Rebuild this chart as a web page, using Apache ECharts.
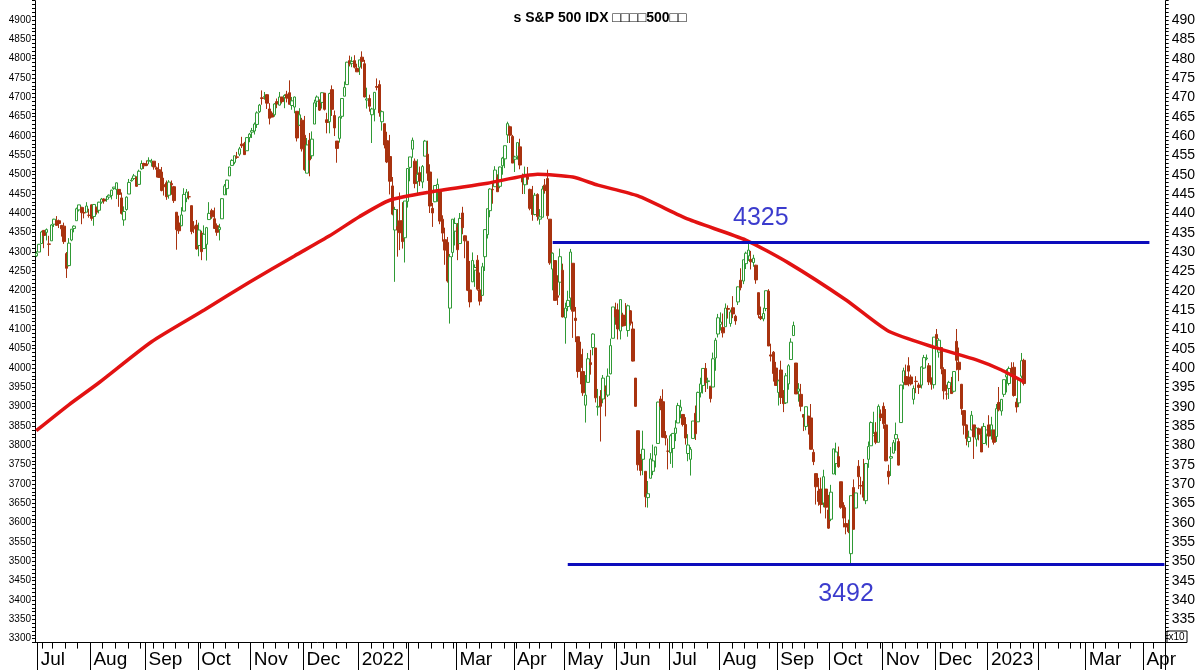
<!DOCTYPE html>
<html>
<head>
<meta charset="utf-8">
<script src="https://cdn.jsdelivr.net/npm/echarts@6/dist/echarts.min.js"></script>
<style>
  html, body { margin: 0; padding: 0; background: #fff; }
  #chart { width: 1200px; height: 670px; }
</style>
</head>
<body>
<div id="chart"></div>
<script>
// daily rows: [day, open, high, low, close]
const jun21 = [[30,4290,4302,4287,4297]];
const jul21 = [
  [1,4300,4321,4300,4320],[2,4322,4355,4322,4352],[6,4356,4356,4310,4343],[7,4351,4361,4330,4358],
  [8,4321,4342,4290,4320],[9,4329,4372,4329,4370],[12,4372,4386,4365,4385],[13,4381,4393,4368,4369],
  [14,4381,4384,4362,4374],[15,4369,4369,4340,4360],[16,4367,4376,4321,4327],[19,4296,4300,4233,4258],
  [20,4265,4336,4263,4323],[21,4331,4359,4328,4359],[22,4361,4369,4351,4367],[23,4381,4415,4381,4412],
  [26,4409,4422,4405,4422],[27,4416,4416,4372,4402],[28,4402,4416,4387,4401],[29,4403,4429,4403,4419],
  [30,4395,4412,4389,4395]
];
const aug21 = [
  [2,4422,4423,4381,4387],[3,4392,4424,4368,4423],[4,4416,4417,4397,4403],[5,4408,4430,4400,4429],
  [6,4429,4440,4425,4437],[9,4437,4439,4425,4432],[10,4436,4445,4430,4436],[11,4442,4449,4436,4447],
  [12,4446,4461,4436,4460],[13,4464,4468,4461,4468],[16,4462,4480,4437,4479],[17,4462,4462,4417,4449],
  [18,4440,4454,4397,4400],[19,4383,4418,4368,4405],[20,4410,4444,4407,4442],[23,4450,4489,4450,4480],
  [24,4484,4492,4482,4486],[25,4490,4502,4486,4497],[26,4493,4496,4469,4470],[27,4475,4513,4475,4509],
  [30,4515,4537,4513,4529],[31,4529,4531,4515,4523]
];
const sep21 = [
  [1,4528,4537,4522,4524],[2,4535,4545,4527,4537],[3,4532,4541,4521,4535],[7,4535,4535,4513,4520],
  [8,4518,4521,4493,4514],[9,4513,4530,4493,4493],[10,4507,4520,4457,4459],[13,4474,4492,4446,4469],
  [14,4479,4485,4435,4443],[15,4447,4486,4438,4481],[16,4477,4485,4448,4474],[17,4469,4471,4427,4433],
  [20,4403,4403,4306,4358],[21,4375,4394,4347,4355],[22,4368,4416,4367,4396],[23,4406,4465,4406,4449],
  [24,4439,4463,4429,4455],[27,4443,4457,4436,4443],[28,4420,4420,4346,4353],[29,4367,4380,4349,4360],
  [30,4370,4383,4306,4308]
];
const oct21 = [
  [1,4317,4376,4289,4357],[4,4349,4355,4279,4301],[5,4309,4369,4309,4346],[6,4320,4365,4278,4363],
  [7,4384,4429,4384,4400],[8,4407,4412,4386,4391],[11,4386,4415,4360,4361],[12,4368,4374,4342,4351],
  [13,4358,4373,4330,4364],[14,4386,4439,4386,4438],[15,4448,4476,4448,4471],[18,4464,4487,4447,4486],
  [19,4497,4520,4497,4520],[20,4524,4540,4524,4537],[21,4532,4549,4527,4549],[22,4546,4559,4541,4545],
  [25,4553,4572,4548,4567],[26,4579,4598,4569,4575],[27,4581,4585,4551,4552],[28,4562,4597,4562,4596],
  [29,4596,4608,4584,4605]
];
const nov21 = [
  [1,4610,4621,4595,4614],[2,4613,4635,4604,4631],[3,4630,4664,4621,4660],[4,4663,4683,4660,4680],
  [5,4699,4718,4681,4697],[8,4702,4714,4694,4702],[9,4707,4708,4670,4685],[10,4670,4685,4630,4646],
  [11,4659,4664,4648,4649],[12,4655,4685,4650,4683],[15,4689,4697,4672,4683],[16,4680,4714,4679,4701],
  [17,4701,4701,4684,4689],[18,4700,4708,4672,4705],[19,4708,4717,4687,4698],[22,4712,4744,4682,4682],
  [23,4679,4701,4668,4691],[24,4675,4702,4659,4701],[26,4664,4664,4586,4595],[29,4628,4672,4626,4655],
  [30,4641,4647,4560,4567]
];
const dec21 = [
  [1,4602,4652,4510,4513],[2,4504,4595,4504,4577],[3,4589,4608,4496,4538],[6,4549,4612,4541,4592],
  [7,4631,4694,4631,4686],[8,4690,4705,4675,4701],[9,4691,4695,4665,4667],[10,4687,4713,4671,4712],
  [13,4711,4711,4666,4669],[14,4642,4660,4607,4635],[15,4637,4712,4607,4710],[16,4720,4731,4652,4669],
  [17,4653,4666,4600,4621],[20,4587,4587,4531,4568],[21,4594,4651,4583,4649],[22,4651,4697,4645,4697],
  [23,4703,4741,4703,4726],[27,4733,4792,4733,4791],[28,4795,4808,4780,4786],[29,4788,4805,4778,4793],
  [30,4795,4809,4775,4778],[31,4775,4787,4766,4766]
];
const jan22 = [
  [3,4778,4797,4758,4797],[4,4804,4819,4774,4793],[5,4787,4797,4700,4701],[6,4693,4725,4671,4696],
  [7,4697,4707,4663,4677],[10,4655,4673,4582,4670],[11,4669,4714,4638,4713],[12,4728,4749,4718,4726],
  [13,4733,4744,4650,4660],[14,4637,4666,4614,4663],[18,4632,4632,4568,4577],[19,4588,4611,4530,4533],
  [20,4547,4603,4449,4483],[21,4471,4494,4395,4398],[24,4357,4417,4223,4410],[25,4366,4411,4288,4357],
  [26,4381,4454,4305,4350],[27,4381,4429,4309,4327],[28,4337,4432,4273,4432],[31,4431,4516,4415,4516]
];
const feb22 = [
  [1,4519,4546,4483,4546],[2,4566,4596,4544,4589],[3,4535,4542,4465,4477],[4,4482,4540,4452,4501],
  [7,4505,4521,4471,4484],[8,4481,4525,4465,4521],[9,4548,4590,4548,4587],[10,4553,4588,4484,4504],
  [11,4507,4527,4401,4419],[14,4413,4427,4365,4401],[15,4430,4472,4429,4472],[16,4456,4490,4430,4475],
  [17,4456,4456,4372,4380],[18,4385,4395,4327,4349],[22,4332,4363,4267,4305],[23,4325,4339,4221,4225],
  [24,4155,4295,4115,4288],[25,4299,4385,4287,4385],[28,4354,4389,4317,4374]
];
const mar22 = [
  [1,4364,4375,4279,4306],[2,4322,4401,4322,4387],[3,4401,4417,4346,4363],[4,4342,4343,4284,4329],
  [7,4328,4328,4199,4201],[8,4202,4277,4157,4171],[9,4223,4299,4223,4278],[10,4253,4268,4210,4260],
  [11,4279,4292,4200,4204],[14,4202,4247,4162,4173],[15,4188,4272,4187,4262],[16,4288,4358,4251,4358],
  [17,4345,4412,4335,4412],[18,4407,4465,4390,4463],[21,4462,4481,4425,4461],[22,4469,4522,4469,4512],
  [23,4493,4501,4456,4456],[24,4470,4521,4465,4520],[25,4523,4546,4500,4543],[28,4541,4575,4517,4575],
  [29,4603,4637,4582,4632],[30,4624,4627,4582,4602],[31,4599,4603,4530,4530]
];
const apr22 = [
  [1,4540,4549,4507,4546],[4,4548,4583,4539,4583],[5,4572,4593,4514,4525],[6,4495,4503,4450,4481],
  [7,4474,4521,4450,4501],[8,4494,4520,4474,4488],[11,4462,4464,4408,4413],[12,4437,4471,4381,4397],
  [13,4397,4453,4395,4447],[14,4449,4452,4381,4392],[18,4385,4411,4371,4391],[19,4390,4471,4390,4463],
  [20,4473,4489,4451,4459],[21,4490,4513,4385,4394],[22,4385,4385,4267,4272],[25,4256,4299,4201,4297],
  [26,4278,4278,4175,4175],[27,4187,4240,4163,4183],[28,4222,4309,4188,4288],[29,4253,4270,4131,4132]
];
const may22 = [
  [2,4130,4169,4063,4155],[3,4159,4200,4147,4175],[4,4181,4308,4151,4300],[5,4271,4271,4078,4147],
  [6,4129,4158,4067,4123],[9,4081,4081,3975,3991],[10,4035,4068,3958,4001],[11,3991,4050,3928,3936],
  [12,3904,3982,3859,3930],[13,3963,4039,3963,4024],[16,4014,4047,3983,4009],[17,4053,4090,4033,4088],
  [18,4052,4052,3911,3923],[19,3899,3946,3877,3901],[20,3927,3943,3810,3901],[23,3920,3982,3909,3974],
  [24,3943,3955,3875,3941],[25,3930,3999,3925,3979],[26,3985,4076,3984,4058],[27,4077,4158,4077,4158],
  [31,4151,4169,4112,4132]
];
const jun22 = [
  [1,4150,4167,4074,4101],[2,4096,4177,4074,4177],[3,4137,4143,4107,4109],[6,4135,4168,4109,4121],
  [7,4097,4164,4081,4161],[8,4148,4150,4110,4116],[9,4101,4120,4017,4018],[10,3974,3974,3900,3901],
  [13,3838,3838,3735,3750],[14,3764,3778,3722,3735],[15,3764,3838,3723,3790],[16,3733,3733,3640,3667],
  [17,3665,3708,3639,3675],[21,3715,3780,3715,3765],[22,3733,3802,3723,3760],[23,3775,3796,3743,3796],
  [24,3805,3913,3805,3912],[27,3920,3928,3891,3901],[28,3913,3945,3820,3821],[29,3826,3837,3800,3819],
  [30,3785,3818,3738,3785]
];
const jul22 = [
  [1,3781,3829,3752,3825],[5,3792,3832,3742,3831],[6,3831,3865,3811,3845],[7,3858,3910,3858,3903],
  [8,3889,3918,3870,3899],[11,3880,3880,3849,3854],[12,3854,3873,3802,3819],[13,3779,3829,3759,3801],
  [14,3764,3796,3722,3790],[15,3818,3863,3818,3863],[18,3883,3903,3814,3830],[19,3861,3939,3861,3937],
  [20,3936,3975,3924,3959],[21,3955,3999,3934,3999],[22,3999,4013,3938,3962],[25,3965,3975,3946,3967],
  [26,3953,3953,3911,3921],[27,3951,4040,3951,4024],[28,4026,4078,3993,4072],[29,4088,4140,4079,4130]
];
const aug22 = [
  [1,4113,4144,4097,4119],[2,4105,4141,4079,4091],[3,4107,4167,4107,4155],[4,4154,4162,4128,4152],
  [5,4115,4151,4107,4145],[8,4156,4186,4129,4140],[9,4134,4138,4112,4122],[10,4171,4211,4163,4210],
  [11,4227,4258,4201,4208],[12,4225,4280,4217,4280],[15,4270,4301,4256,4297],[16,4290,4325,4277,4305],
  [17,4281,4303,4255,4275],[18,4273,4293,4262,4284],[19,4266,4267,4218,4228],[22,4195,4195,4129,4138],
  [23,4133,4159,4124,4128],[24,4127,4156,4121,4141],[25,4154,4200,4147,4200],[26,4199,4204,4057,4057],
  [29,4034,4063,4017,4031],[30,4041,4044,3965,3986],[31,4000,4016,3954,3955]
];
const sep22 = [
  [1,3937,3970,3903,3967],[2,3995,4019,3907,3924],[6,3931,3943,3886,3908],[7,3910,3987,3907,3980],
  [8,3959,4010,3944,4006],[9,4022,4077,4022,4067],[12,4084,4120,4084,4110],[13,4013,4013,3933,3933],
  [14,3940,3961,3913,3946],[15,3932,3959,3888,3901],[16,3880,3880,3837,3873],[19,3849,3900,3839,3900],
  [20,3876,3876,3828,3856],[21,3871,3907,3789,3790],[22,3782,3790,3749,3758],[23,3727,3727,3647,3693],
  [26,3682,3716,3644,3655],[27,3687,3717,3624,3647],[28,3651,3737,3640,3719],[29,3687,3687,3611,3640],
  [30,3633,3672,3584,3586]
];
const oct22 = [
  [3,3609,3698,3604,3679],[4,3726,3791,3726,3791],[5,3753,3807,3723,3783],[6,3771,3797,3742,3745],
  [7,3706,3706,3636,3640],[10,3645,3653,3588,3612],[11,3598,3640,3570,3589],[12,3591,3608,3573,3577],
  [13,3520,3670,3492,3670],[14,3691,3712,3584,3583],[17,3638,3677,3638,3677],[18,3746,3762,3687,3719],
  [19,3696,3719,3673,3695],[20,3707,3765,3657,3666],[21,3657,3753,3648,3753],[24,3764,3810,3742,3797],
  [25,3799,3862,3799,3859],[26,3825,3887,3825,3831],[27,3834,3860,3803,3808],[28,3808,3906,3808,3901],
  [31,3881,3893,3863,3872]
];
const nov22 = [
  [1,3901,3911,3843,3856],[2,3853,3894,3759,3760],[3,3733,3750,3699,3719],[4,3767,3796,3721,3771],
  [7,3780,3814,3779,3807],[8,3817,3859,3786,3828],[9,3810,3818,3748,3749],[10,3859,3957,3859,3956],
  [11,3963,4001,3945,3993],[14,3978,4009,3956,3957],[15,4006,4028,3953,3992],[16,3977,3983,3955,3959],
  [17,3919,3955,3906,3947],[18,3966,3979,3935,3965],[21,3956,3962,3933,3950],[22,3956,4004,3947,4003],
  [23,4000,4034,3998,4027],[25,4024,4035,4020,4026],[28,4006,4013,3956,3964],[29,3964,3976,3944,3958],
  [30,3957,4080,3947,4080]
];
const dec22 = [
  [1,4087,4101,4057,4076],[2,4041,4077,4027,4072],[5,4053,4053,3984,3998],[6,3996,4002,3919,3941],
  [7,3933,3957,3918,3933],[8,3947,3967,3920,3963],[9,3954,3977,3933,3934],[12,3940,3991,3937,3991],
  [13,4069,4101,3994,4020],[14,4015,4053,3966,3996],[15,3958,3959,3879,3895],[16,3890,3890,3828,3852],
  [19,3853,3854,3800,3818],[20,3810,3838,3795,3821],[21,3840,3889,3839,3878],[22,3853,3853,3765,3822],
  [23,3816,3846,3797,3845],[27,3843,3846,3813,3829],[28,3829,3849,3783,3783],[29,3805,3858,3805,3849],
  [30,3829,3840,3800,3840]
];
const jan23 = [
  [3,3853,3878,3794,3824],[4,3840,3874,3815,3853],[5,3840,3840,3802,3808],[6,3823,3907,3809,3895],
  [9,3911,3951,3888,3892],[10,3889,3920,3877,3919],[11,3932,3970,3925,3970],[12,3977,3997,3937,3983],
  [13,3960,4004,3955,3999],[17,3999,4015,3984,3990],[18,4002,4015,3926,3929],[19,3912,3922,3885,3899],
  [20,3910,3973,3899,3972],[23,3979,4039,3973,4019],[24,4020,4024,3955,3960]
];
const months = [
  ['2021-06', jun21], ['2021-07', jul21], ['2021-08', aug21], ['2021-09', sep21],
  ['2021-10', oct21], ['2021-11', nov21], ['2021-12', dec21], ['2022-01', jan22],
  ['2022-02', feb22], ['2022-03', mar22], ['2022-04', apr22], ['2022-05', may22],
  ['2022-06', jun22], ['2022-07', jul22], ['2022-08', aug22], ['2022-09', sep22],
  ['2022-10', oct22], ['2022-11', nov22], ['2022-12', dec22], ['2023-01', jan23]
];

// moving average: [trading-day index, value]
const maIdx = [0, 13, 25, 46, 67, 85, 103, 117, 129, 141, 157, 180, 200, 214, 224, 240, 260, 283, 300, 323, 340, 359, 375, 385, 394];
const maVal = [3838, 3905, 3962, 4068, 4150, 4222, 4290, 4342, 4392, 4434, 4455, 4478, 4501, 4494, 4473, 4445, 4385, 4331, 4272, 4176, 4095, 4052, 4021, 3995, 3964];

// support / resistance lines
const resistance = { value: 4325, from: 206, to: 444, labelAt: 289 };
const support = { value: 3492, from: 212, to: 450, labelAt: 323 };

const axisEnd = '2023-04-14';
const holidays = ['2023-02-20', '2023-04-07'];
const monthNames = ['', 'Jan', 'Feb', 'Mar', 'Apr', 'May', 'Jun', 'Jul', 'Aug', 'Sep', 'Oct', 'Nov', 'Dec'];

const pad = n => (n < 10 ? '0' : '') + n;
const dates = [];
const candles = [];
months.forEach(([ym, rows]) => {
  rows.forEach(r => {
    dates.push(ym + '-' + pad(r[0]));
    candles.push([r[1], r[4], r[3], r[2]]); // open, close, low, high
  });
});
// empty trading days to the end of the axis
let d = new Date(dates[dates.length - 1] + 'T00:00:00Z');
while (true) {
  d = new Date(d.getTime() + 86400000);
  const s = d.toISOString().slice(0, 10);
  if (s > axisEnd) break;
  const wd = d.getUTCDay();
  if (wd === 0 || wd === 6 || holidays.includes(s)) continue;
  dates.push(s);
}

const ma = dates.map(() => null);
maIdx.forEach((i, k) => { ma[i] = maVal[k]; });

const isMonthStart = i => i > 0 && dates[i].slice(0, 7) !== dates[i - 1].slice(0, 7);
const dow = i => new Date(dates[i] + 'T00:00:00Z').getUTCDay();
const isWeekStart = i => i > 0 && dow(i) <= dow(i - 1);

const myChart = echarts.init(document.getElementById('chart'));
const font = 'Liberation Sans, Arial, sans-serif';

const option = {
  animation: false,
  backgroundColor: '#ffffff',
  title: {
    text: 's S&P 500 IDX □□□□500□□',
    left: 'center',
    top: 6,
    textStyle: { fontSize: 14, fontWeight: 'bold', color: '#000', fontFamily: font }
  },
  grid: { left: 35, right: 34.3, top: 0.7, bottom: 27.4 },
  xAxis: [
    {
      type: 'category',
      data: dates,
      boundaryGap: true,
      position: 'bottom',
      axisLine: { show: true, lineStyle: { color: '#000', width: 1 } },
      axisTick: {
        show: true,
        interval: i => isMonthStart(i),
        length: 28,
        lineStyle: { color: '#000', width: 1 }
      },
      axisLabel: {
        interval: i => isMonthStart(i) && dates[i].slice(5, 7) !== '02',
        formatter: v => (v.slice(5, 7) === '01' ? v.slice(0, 4) : monthNames[+v.slice(5, 7)]),
        align: 'left',
        padding: [0, 0, 0, 2],
        margin: 8,
        fontSize: 19,
        color: '#000',
        fontFamily: font
      },
      splitLine: { show: false }
    },
    {
      type: 'category',
      data: dates,
      boundaryGap: true,
      position: 'bottom',
      axisLine: { show: false },
      axisTick: {
        show: true,
        interval: i => isWeekStart(i),
        length: 6,
        lineStyle: { color: '#000', width: 1 }
      },
      axisLabel: { show: false },
      splitLine: { show: false }
    }
  ],
  yAxis: [
    {
      type: 'value',
      position: 'left',
      min: 3290,
      max: 4950,
      interval: 10,
      axisLine: { show: true, lineStyle: { color: '#000', width: 1 } },
      axisTick: { show: true, length: 3, lineStyle: { color: '#000' } },
      axisLabel: {
        formatter: v => (v % 50 === 0 && v >= 3300 && v <= 4900 ? String(v) : ''),
        fontSize: 10,
        margin: 4,
        color: '#000',
        fontFamily: font
      },
      splitLine: { show: false }
    },
    {
      type: 'value',
      position: 'right',
      min: 329,
      max: 495,
      interval: 1,
      axisLine: { show: true, lineStyle: { color: '#000', width: 1 } },
      axisTick: { show: true, length: 3, lineStyle: { color: '#000' } },
      axisLabel: {
        formatter: v => (v % 5 === 0 && v >= 335 && v <= 490 ? String(v) : ''),
        fontSize: 14,
        margin: 6,
        color: '#000',
        fontFamily: font
      },
      splitLine: { show: false }
    }
  ],
  series: [
    {
      type: 'candlestick',
      data: candles,
      barWidth: 3,
      itemStyle: {
        color: '#ffffff',
        color0: '#a8320f',
        borderColor: '#2f9a35',
        borderColor0: '#a8320f',
        borderWidth: 1
      },
      z: 2
    },
    {
      type: 'line',
      data: ma,
      connectNulls: true,
      smooth: 0.2,
      showSymbol: false,
      lineStyle: { color: '#e21212', width: 3.5 },
      z: 4
    },
    {
      type: 'line',
      data: [[resistance.from, resistance.value], [resistance.to, resistance.value]],
      showSymbol: false,
      lineStyle: { color: '#0c0cbc', width: 3 },
      z: 5
    },
    {
      type: 'line',
      data: [[support.from, support.value], [support.to, support.value]],
      showSymbol: false,
      lineStyle: { color: '#0c0cbc', width: 3 },
      z: 5
    },
    {
      type: 'scatter',
      symbolSize: 0,
      data: [
        { value: [resistance.labelAt, resistance.value], label: { position: 'top', distance: 12 } },
        { value: [support.labelAt, support.value], label: { position: 'bottom', distance: 17 } }
      ],
      label: {
        show: true,
        formatter: p => String(p.value[1]),
        fontSize: 25,
        color: '#0a0ac0',
        fontFamily: font
      },
      z: 6
    }
  ],
  graphic: [
    {
      type: 'rect',
      shape: { x: 1167, y: 631, width: 20, height: 11.5 },
      style: { fill: '#fff', stroke: '#000', lineWidth: 1 }
    },
    {
      type: 'text',
      x: 1168.5, y: 632,
      style: { text: 'x10', fontSize: 10, fill: '#000', fontFamily: font }
    }
  ]
};

myChart.setOption(option);
</script>
</body>
</html>
